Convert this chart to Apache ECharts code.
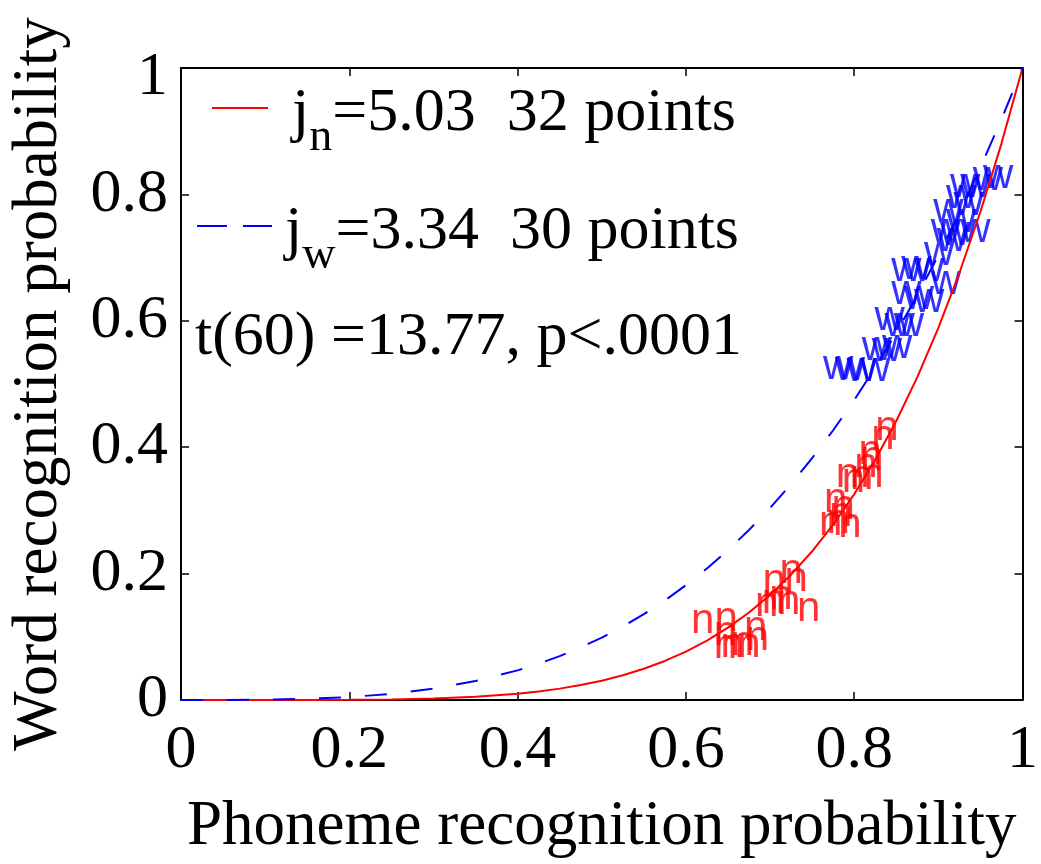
<!DOCTYPE html>
<html>
<head>
<meta charset="utf-8">
<title>Word vs phoneme recognition</title>
<script src="https://cdn.jsdelivr.net/npm/echarts@6/dist/echarts.min.js"></script>
<style>
  html, body { margin: 0; padding: 0; background: #fff; }
  #chart { width: 1041px; height: 864px; }
</style>
</head>
<body>
<div id="chart"></div>
<script>
// 曲线取样点
var curveX = [0, 0.05, 0.1, 0.15, 0.2, 0.25, 0.3, 0.35, 0.4, 0.425, 0.45, 0.475, 0.5,
              0.525, 0.55, 0.575, 0.6, 0.625, 0.65, 0.675, 0.7, 0.725, 0.75, 0.775, 0.8,
              0.825, 0.85, 0.875, 0.9, 0.925, 0.95, 0.975, 1];
var curveN = [0, 0, 0.00001, 0.00007, 0.0003, 0.0009, 0.0023, 0.0051, 0.0100, 0.0135, 0.0180, 0.0237, 0.0306,
              0.0391, 0.0494, 0.0618, 0.0766, 0.0940, 0.1145, 0.1385, 0.1663, 0.1984, 0.2353, 0.2774, 0.3255,
              0.3800, 0.4415, 0.5108, 0.5887, 0.6756, 0.7726, 0.8804, 1];
var curveW = [0, 0.00005, 0.0005, 0.0018, 0.0046, 0.0098, 0.0179, 0.0300, 0.0469, 0.0574, 0.0695, 0.0832, 0.0988,
              0.1162, 0.1358, 0.1575, 0.1816, 0.2081, 0.2372, 0.2691, 0.3039, 0.3416, 0.3826, 0.4268, 0.4746,
              0.5259, 0.5811, 0.6403, 0.7034, 0.7708, 0.8426, 0.9189, 1];

// "n" points (32)
var nX = [0.620, 0.648, 0.647, 0.647, 0.655, 0.667, 0.683, 0.685, 0.675, 0.705, 0.725,
          0.731, 0.696, 0.704, 0.713, 0.722, 0.746, 0.839, 0.834, 0.819, 0.821, 0.792,
          0.799, 0.809, 0.821, 0.778, 0.787, 0.772, 0.781, 0.795, 0.784, 0.814];
var nY = [0.125, 0.128, 0.105, 0.085, 0.086, 0.089, 0.113, 0.097, 0.086, 0.188, 0.203,
          0.191, 0.152, 0.156, 0.163, 0.155, 0.144, 0.430, 0.415, 0.391, 0.383, 0.355,
          0.347, 0.352, 0.355, 0.316, 0.305, 0.280, 0.282, 0.277, 0.293, 0.371];

// "w" points (30)
var wX = [0.781, 0.795, 0.809, 0.825, 0.827, 0.839, 0.851, 0.842, 0.854, 0.865,
          0.862, 0.877, 0.889, 0.862, 0.874, 0.889, 0.909, 0.901, 0.909, 0.920,
          0.916, 0.944, 0.927, 0.912, 0.927, 0.936, 0.932, 0.944, 0.959, 0.971];
var wY = [0.527, 0.524, 0.523, 0.523, 0.556, 0.554, 0.559, 0.603, 0.595, 0.595,
          0.645, 0.637, 0.632, 0.681, 0.684, 0.681, 0.660, 0.707, 0.743, 0.739,
          0.728, 0.743, 0.759, 0.775, 0.797, 0.786, 0.814, 0.814, 0.825, 0.828];

var xTicks = [0, 0.2, 0.4, 0.6, 0.8, 1];
var yTicks = [0, 0.2, 0.4, 0.6, 0.8, 1];

function pairs(xs, ys) {
    return xs.map(function (x, i) { return [x, ys[i]]; });
}

var serif = "'Liberation Serif', 'Times New Roman', Times, serif";
var sans = "'Liberation Sans', Arial, Helvetica, sans-serif";
var RED = '#ff0000', BLUE = '#0000ff';

var chart = echarts.init(document.getElementById('chart'));

function baseAxis(pos, showLabel, labelMargin) {
    return {
        type: 'value',
        position: pos,
        min: 0,
        max: 1,
        interval: 0.2,
        axisLine: { show: true, onZero: false, lineStyle: { color: '#000', width: 2 } },
        axisTick: { show: true, inside: true, length: 8, lineStyle: { color: '#000', width: 1.5 } },
        axisLabel: {
            show: showLabel,
            margin: labelMargin,
            color: '#000',
            fontFamily: serif,
            fontSize: 62,
            formatter: function (v) { return String(+v.toFixed(1)); }
        },
        splitLine: { show: false }
    };
}

var xMain = baseAxis('bottom', true, 20);
xMain.name = 'Phoneme recognition probability';
xMain.nameLocation = 'middle';
xMain.nameGap = 96;
xMain.nameTextStyle = { color: '#000', fontFamily: serif, fontSize: 63 };

var yMain = baseAxis('left', true, 13);
yMain.name = 'Word recognition probability';
yMain.nameLocation = 'middle';
yMain.nameGap = 110;
yMain.nameTextStyle = { color: '#000', fontFamily: serif, fontSize: 63 };
// top label "1" sits a bit below its tick, as in the original
yMain.axisLabel.formatter = function (v) {
    var s = String(+v.toFixed(1));
    return v === 1 ? '{top|' + s + '}' : s;
};
yMain.axisLabel.rich = {
    top: { fontFamily: serif, fontSize: 62, color: '#000', padding: [20, 0, 0, 0] }
};

var sub = function (color) {
    return {
        m: { fontFamily: serif, fontSize: 62, color: color, lineHeight: 94 },
        s: { fontFamily: serif, fontSize: 46, color: color, lineHeight: 20, verticalAlign: 'bottom' }
    };
};

function letterSeries(name, data, letter, color) {
    return {
        name: name,
        type: 'scatter',
        data: data,
        symbol: 'circle',
        symbolSize: 1,
        itemStyle: { color: 'rgba(0,0,0,0)' },
        label: {
            show: true, position: 'inside', formatter: letter,
            color: color, fontFamily: sans, fontSize: 42
        },
        labelLayout: { hideOverlap: false },
        z: 2
    };
}

var option = {
    animation: false,
    backgroundColor: '#fff',
    grid: { left: 180, right: 6, top: 68, bottom: 157, containLabel: false },
    xAxis: [xMain, baseAxis('top', false, 0)],
    yAxis: [yMain, baseAxis('right', false, 0)],
    series: [
        letterSeries('n points', pairs(nX, nY), 'n', RED),
        letterSeries('w points', pairs(wX, wY), 'w', BLUE),
        {
            name: 'j_n',
            type: 'line',
            data: pairs(curveX, curveN),
            symbol: 'none',
            lineStyle: { color: RED, width: 2 },
            z: 3
        },
        {
            name: 'j_w',
            type: 'line',
            data: pairs(curveX, curveW),
            symbol: 'none',
            lineStyle: { color: BLUE, width: 2, type: [22, 24] },
            z: 4
        }
    ],
    graphic: [
        { type: 'line', shape: { x1: 212, y1: 108, x2: 268, y2: 108 },
          style: { stroke: RED, lineWidth: 2 } },
        { type: 'text', x: 292, y: 114,
          style: { text: '{m|j}{s|n}{m|=5.03  32 points}', rich: sub(RED),
                   verticalAlign: 'middle', align: 'left' } },
        { type: 'line', shape: { x1: 197, y1: 226, x2: 272, y2: 226 },
          style: { stroke: BLUE, lineWidth: 2, lineDash: [30, 16] } },
        { type: 'text', x: 285, y: 232,
          style: { text: '{m|j}{s|w}{m|=3.34  30 points}', rich: sub(BLUE),
                   verticalAlign: 'middle', align: 'left' } },
        { type: 'text', x: 195, y: 338,
          style: { text: 't(60) =13.77, p<.0001', fill: '#000', fontFamily: serif,
                   fontSize: 62, verticalAlign: 'middle', align: 'left' } }
    ]
};

chart.setOption(option);
window.addEventListener('resize', function () { chart.resize(); });
</script>
</body>
</html>
